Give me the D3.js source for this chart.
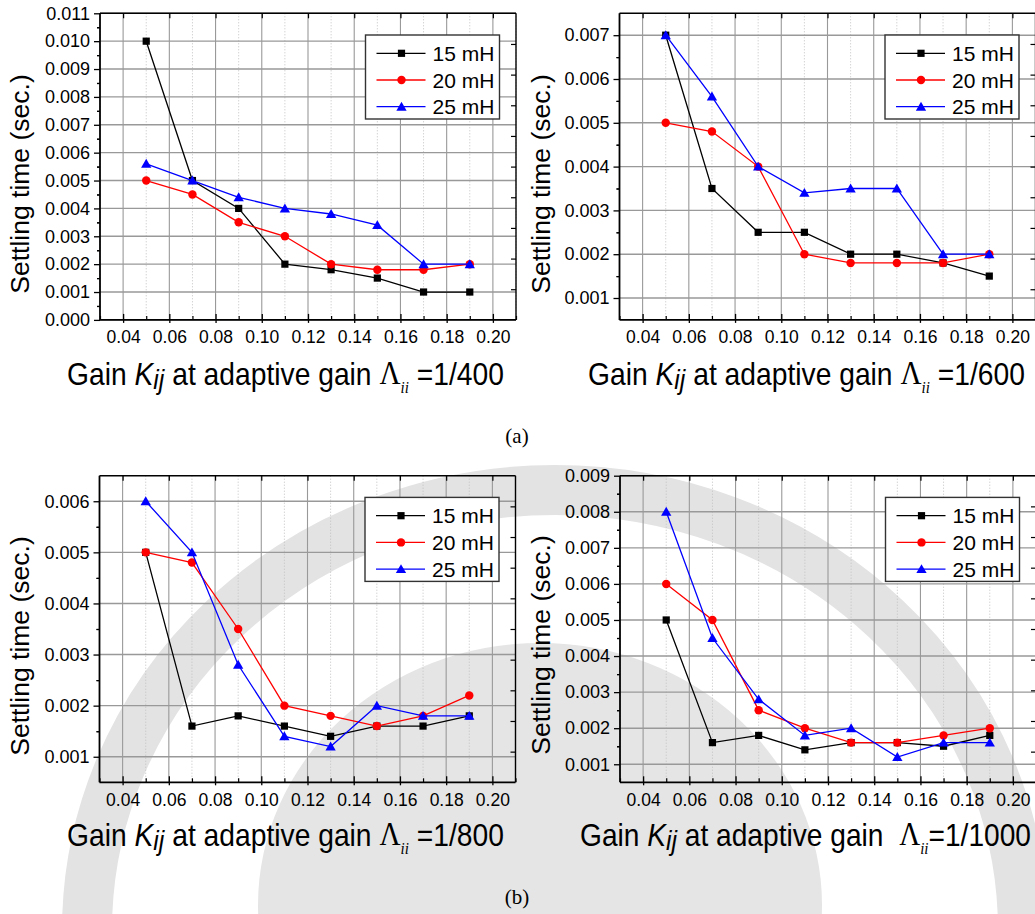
<!DOCTYPE html>
<html><head><meta charset="utf-8">
<script src="https://cdn.jsdelivr.net/npm/d3@7"></script>
<style>
html,body{margin:0;padding:0;background:#fff;}
svg{display:block;}
</style></head>
<body>
<svg id="chart" width="1035" height="914"></svg>
<script>
// ---------------- data ----------------
const kGain = [0.05, 0.07, 0.09, 0.11, 0.13, 0.15, 0.17, 0.19];
const seriesNames = ["15 mH", "20 mH", "25 mH"];
const xTicks = [0.04, 0.06, 0.08, 0.10, 0.12, 0.14, 0.16, 0.18, 0.20];

// adaptive gain 1/400
const a400_15 = [0.010, 0.005, 0.004, 0.002, 0.0018, 0.0015, 0.001, 0.001];
const a400_20 = [0.005, 0.0045, 0.0035, 0.003, 0.002, 0.0018, 0.0018, 0.002];
const a400_25 = [0.0056, 0.005, 0.0044, 0.004, 0.0038, 0.0034, 0.002, 0.002];
// adaptive gain 1/600
const a600_15 = [0.007, 0.0035, 0.0025, 0.0025, 0.002, 0.002, 0.0018, 0.0015];
const a600_20 = [0.005, 0.0048, 0.004, 0.002, 0.0018, 0.0018, 0.0018, 0.002];
const a600_25 = [0.007, 0.0056, 0.004, 0.0034, 0.0035, 0.0035, 0.002, 0.002];
// adaptive gain 1/800
const a800_15 = [0.005, 0.0016, 0.0018, 0.0016, 0.0014, 0.0016, 0.0016, 0.0018];
const a800_20 = [0.005, 0.0048, 0.0035, 0.002, 0.0018, 0.0016, 0.0018, 0.0022];
const a800_25 = [0.006, 0.005, 0.0028, 0.0014, 0.0012, 0.002, 0.0018, 0.0018];
// adaptive gain 1/1000
const a1000_15 = [0.005, 0.0016, 0.0018, 0.0014, 0.0016, 0.0016, 0.0015, 0.0018];
const a1000_20 = [0.006, 0.005, 0.0025, 0.002, 0.0016, 0.0016, 0.0018, 0.002];
const a1000_25 = [0.008, 0.0045, 0.0028, 0.0018, 0.002, 0.0012, 0.0016, 0.0016];

const yTicks400 = [0,0.001,0.002,0.003,0.004,0.005,0.006,0.007,0.008,0.009,0.010,0.011];
const yTicks600 = [0.001,0.002,0.003,0.004,0.005,0.006,0.007];
const yTicks800 = [0.001,0.002,0.003,0.004,0.005,0.006];
const yTicks1000 = [0.001,0.002,0.003,0.004,0.005,0.006,0.007,0.008,0.009];

const gainLabels = ["1/400", "1/600", "1/800", "1/1000"];
const panelLabels = ["(a)", "(b)"];

// ---------------- style ----------------
const colors = ["#000000", "#ff0000", "#0000ff"];
const SANS = "'Liberation Sans', Arial, Helvetica, sans-serif";
const SERIF = "'Liberation Serif', 'Times New Roman', serif";

const svg = d3.select("#chart");

// faint background watermark (seal rings)
const wm = svg.append("g");
wm.append("ellipse").attr("cx", 555).attr("cy", 930).attr("rx", 468).attr("ry", 440)
  .attr("fill", "none").attr("stroke", "#e3e3e3").attr("stroke-width", 50);
wm.append("ellipse").attr("cx", 540).attr("cy", 905).attr("rx", 282).attr("ry", 262)
  .attr("fill", "#e5e5e5");

const panels = [
  {left: 100, top: 13.3, yDomain: [0, 0.011], yTicks: yTicks400, series: [a400_15, a400_20, a400_25],
   gain: gainLabels[0], titleX: 67, titleW: 437, titleY: 385, ytX: 29, ytY: 184, pre: " ", post: " ="},
  {left: 619.5, top: 13.3, yDomain: [0.0005, 0.0075], yTicks: yTicks600, series: [a600_15, a600_20, a600_25],
   gain: gainLabels[1], titleX: 588, titleW: 437, titleY: 385, ytX: 550, ytY: 184, pre: " ", post: " ="},
  {left: 99.5, top: 475.7, yDomain: [0.0005, 0.0065], yTicks: yTicks800, series: [a800_15, a800_20, a800_25],
   gain: gainLabels[2], titleX: 67, titleW: 437, titleY: 846, ytX: 29, ytY: 646, pre: " ", post: " ="},
  {left: 620, top: 475.7, yDomain: [0.0005, 0.009], yTicks: yTicks1000, series: [a1000_15, a1000_20, a1000_25],
   gain: gainLabels[3], titleX: 580, titleW: 451, titleY: 846, ytX: 550, ytY: 645, pre: "  ", post: "="}
];

const W = 416, H = 306.6;

function markerPath(i) {
  const types = [d3.symbolSquare, d3.symbolCircle, d3.symbolTriangle];
  const sizes = [52, 56, 46];
  return d3.symbol().type(types[i]).size(sizes[i])();
}

panels.forEach((p, pi) => {
  const g = svg.append("g").attr("transform", `translate(${p.left},${p.top})`);
  const x = d3.scaleLinear().domain([0.03, 0.21]).range([0, W]);
  const y = d3.scaleLinear().domain(p.yDomain).range([H, 0]);
  const xMinor = d3.range(0.03, 0.2101, 0.02).map(v => +v.toFixed(2));
  const yMinor = p.yTicks.map(v => v + 0.0005).filter(v => v < p.yDomain[1] - 1e-9)
      .concat(p.yTicks.map(v => v - 0.0005).filter(v => v > p.yDomain[0] + 1e-9));

  // grid
  g.append("g").selectAll("line").data(xMinor).join("line")
    .attr("x1", d => x(d)).attr("x2", d => x(d)).attr("y1", 0).attr("y2", H)
    .attr("stroke", "#c0c0c0").attr("stroke-width", 1).attr("stroke-dasharray", "1,2");
  g.append("g").selectAll("line").data(xTicks).join("line")
    .attr("x1", d => x(d)).attr("x2", d => x(d)).attr("y1", 0).attr("y2", H)
    .attr("stroke", "#999").attr("stroke-width", 1.1);
  g.append("g").selectAll("line").data(p.yTicks).join("line")
    .attr("x1", 0).attr("x2", W).attr("y1", d => y(d)).attr("y2", d => y(d))
    .attr("stroke", "#999").attr("stroke-width", 1.4);

  // frame (top, right)
  g.append("line").attr("x1", 0).attr("x2", W).attr("y1", 0).attr("y2", 0).attr("stroke", "#000").attr("stroke-width", 1.4);
  g.append("line").attr("x1", W).attr("x2", W).attr("y1", 0).attr("y2", H).attr("stroke", "#000").attr("stroke-width", 1.4);
  const yr = d3.scaleLinear().domain([0, 10]).range([H, 0]);
  g.append("g").attr("transform", `translate(${W},0)`)
    .call(d3.axisRight(yr).tickValues(d3.range(1, 10)).tickSize(-5).tickFormat(""))
    .call(s => s.select(".domain").remove())
    .call(s => s.selectAll("line").attr("stroke", "#000").attr("stroke-width", 1.2));
  g.append("g")
    .call(d3.axisTop(x).tickValues(xTicks).tickSize(-5).tickFormat(""))
    .call(s => s.select(".domain").remove())
    .call(s => s.selectAll("line").attr("stroke", "#000").attr("stroke-width", 1.2));

  // left axis
  const yAxis = g.append("g")
    .call(d3.axisLeft(y).tickValues(p.yTicks).tickSize(6).tickPadding(4).tickFormat(d3.format(".3f")));
  yAxis.select(".domain").attr("d", `M0,0V${H}`).attr("stroke", "#000").attr("stroke-width", 1.8);
  yAxis.selectAll("line").attr("stroke", "#000").attr("stroke-width", 1.3);
  yAxis.selectAll("text").attr("font-family", SANS).attr("font-size", 18).attr("fill", "#000");
  g.append("g")
    .call(d3.axisLeft(y).tickValues(yMinor).tickSize(3).tickFormat(""))
    .call(s => s.select(".domain").remove())
    .call(s => s.selectAll("line").attr("stroke", "#000").attr("stroke-width", 1.2));

  // bottom axis
  const xAxis = g.append("g").attr("transform", `translate(0,${H})`)
    .call(d3.axisBottom(x).tickValues(xTicks).tickSize(-6).tickPadding(11).tickFormat(d3.format(".2f")));
  xAxis.select(".domain").attr("d", `M0,0H${W}`).attr("stroke", "#000").attr("stroke-width", 1.8);
  xAxis.selectAll("line").attr("stroke", "#000").attr("stroke-width", 1.3).attr("y2", -6).attr("y1", 3);
  xAxis.selectAll("text").attr("font-family", SANS).attr("font-size", 17.5).attr("fill", "#000");
  g.append("g").attr("transform", `translate(0,${H})`)
    .call(d3.axisBottom(x).tickValues(xMinor).tickSize(-4).tickFormat(""))
    .call(s => s.select(".domain").remove())
    .call(s => s.selectAll("line").attr("stroke", "#000").attr("stroke-width", 1.2));

  // series
  const line = d3.line().x((d, i) => x(kGain[i])).y(d => y(d));
  p.series.forEach((vals, si) => {
    g.append("path").datum(vals).attr("d", line)
      .attr("fill", "none").attr("stroke", colors[si]).attr("stroke-width", 1.3);
    g.append("g").selectAll("path").data(vals).join("path")
      .attr("d", markerPath(si))
      .attr("transform", (d, i) => `translate(${x(kGain[i])},${y(d) + (si === 2 ? 1 : 0)})`)
      .attr("fill", colors[si]);
  });

  // legend
  const lg = g.append("g").attr("transform", `translate(${W - 150.5},${21.7})`);
  lg.append("rect").attr("x", 0).attr("y", 0).attr("width", 134).attr("height", 84)
    .attr("fill", "#fff").attr("stroke", "#333").attr("stroke-width", 1.4);
  seriesNames.forEach((nm, si) => {
    const ry = 18.3 + si * 26.7;
    lg.append("line").attr("x1", 11).attr("x2", 60).attr("y1", ry).attr("y2", ry)
      .attr("stroke", colors[si]).attr("stroke-width", 1.3);
    lg.append("path").attr("d", markerPath(si))
      .attr("transform", `translate(36,${ry + (si === 2 ? 1 : 0)})`).attr("fill", colors[si]);
    lg.append("text").attr("x", 67).attr("y", ry + 7.5).text(nm)
      .attr("font-family", SANS).attr("font-size", 21).attr("fill", "#000");
  });

  // y title
  svg.append("text")
    .attr("transform", `translate(${p.ytX},${p.ytY}) rotate(-90)`)
    .attr("text-anchor", "middle")
    .attr("font-family", SANS).attr("font-size", 26.5).attr("fill", "#000")
    .text("Settling time (sec.)");

  // x title: separate pieces, laid out in sequence, then condensed horizontally
  const pieces = [
    {t: "Gain ", fam: SANS, size: 32},
    {t: "K", fam: SANS, size: 32, style: "italic"},
    {t: "ij", fam: SANS, size: 28, style: "italic", dy: 4},
    {t: " at adaptive gain" + p.pre, fam: SANS, size: 32},
    {t: "\u039B", fam: SERIF, size: 33, dy: -1},
    {t: "ii", fam: SERIF, size: 17, style: "italic", dy: 8},
    {t: p.post + p.gain, fam: SANS, size: 32}
  ];
  const tg = svg.append("g");
  let cx = 0;
  pieces.forEach(pc => {
    const te = tg.append("text").attr("x", cx).attr("y", pc.dy || 0)
      .attr("font-family", pc.fam).attr("font-size", pc.size)
      .attr("font-style", pc.style || "normal").attr("fill", "#000")
      .style("white-space", "pre").attr("xml:space", "preserve").text(pc.t);
    cx += te.node().getComputedTextLength();
  });
  const sx = p.titleW / cx;
  tg.attr("transform", `translate(${p.titleX},${p.titleY}) scale(${sx},1)`);
});

// panel captions
svg.append("text").attr("x", 517).attr("y", 443).attr("text-anchor", "middle")
  .attr("font-family", SERIF).attr("font-size", 21).text(panelLabels[0]);
svg.append("text").attr("x", 517).attr("y", 904).attr("text-anchor", "middle")
  .attr("font-family", SERIF).attr("font-size", 21).text(panelLabels[1]);
</script>
</body></html>
